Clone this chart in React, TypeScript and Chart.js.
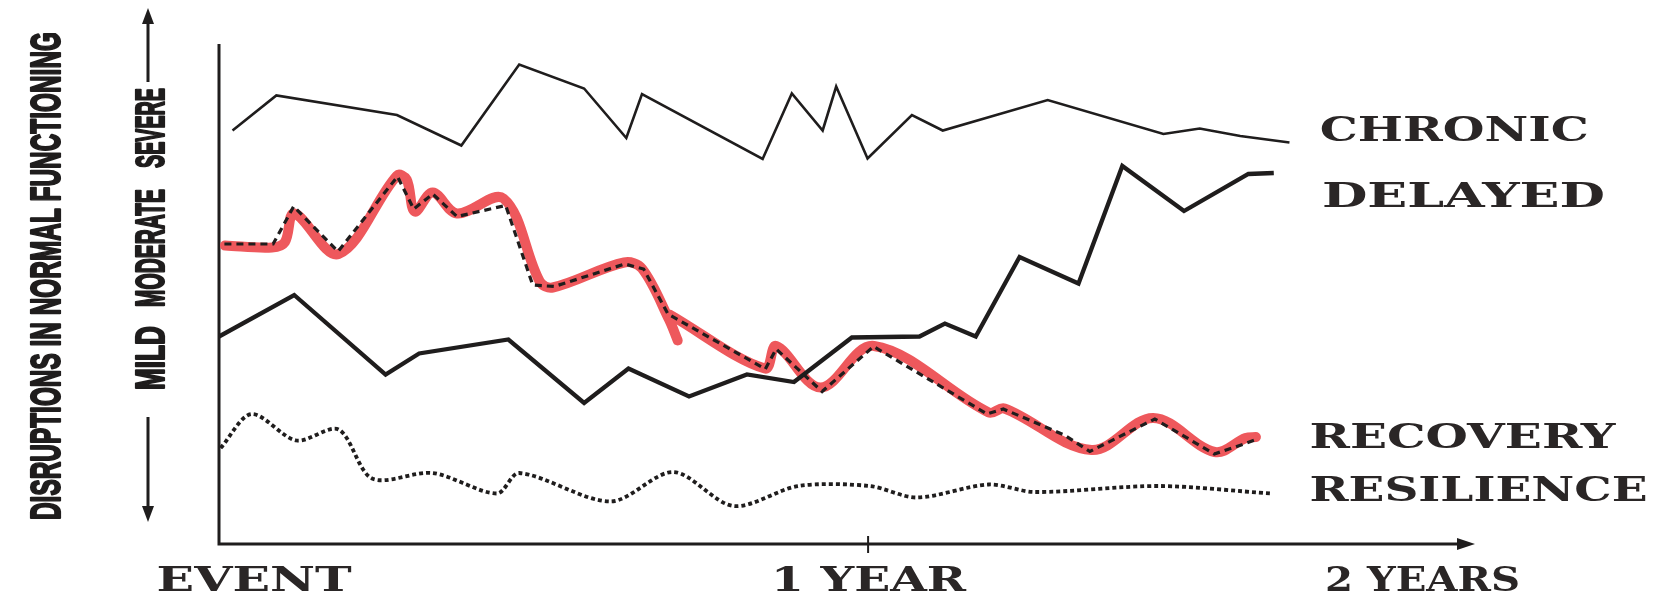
import React, { useEffect, useRef } from "react";
import { Chart, registerables } from "chart.js";

Chart.register(...registerables);

// ---------- data (x in months since the event, y = level of disruption 0..100) ----------
const chronicMonths = [0.25, 1.06, 3.29, 4.48, 5.55, 6.75, 7.53, 7.82, 10.05, 10.59, 11.16, 11.41, 11.99, 12.81, 13.38, 15.32, 17.46, 18.13, 18.88, 19.79];
const chronicValues = [82.7, 89.7, 85.8, 79.7, 95.9, 91.1, 81.2, 90.0, 77.0, 90.1, 82.7, 91.5, 77.1, 85.8, 82.7, 88.8, 82.0, 83.1, 81.6, 80.3];

const delayedMonths = [0.0, 1.39, 3.08, 3.7, 5.35, 6.75, 7.57, 8.69, 9.76, 10.63, 11.7, 12.95, 13.42, 13.99, 14.8, 15.89, 16.7, 17.84, 19.03, 19.5];
const delayedValues = [41.5, 49.8, 33.9, 38.1, 40.9, 28.2, 35.1, 29.5, 33.9, 32.4, 41.3, 41.5, 44.1, 41.5, 57.4, 52.1, 75.6, 66.6, 74.0, 74.2];

const recoveryMonths = [0.1, 1.0, 1.38, 2.2, 3.3, 3.6, 3.95, 4.4, 5.3, 5.8, 6.2, 7.5, 7.85, 8.3, 10.1, 10.3, 11.15, 12.1, 14.2, 14.5, 15.63, 16.1, 17.3, 18.4, 18.95, 19.2];
const recoveryValues = [60, 60, 67.5, 58.5, 73.5, 67, 70, 65.5, 67.7, 51.8, 51.5, 56, 55, 46, 35, 39, 30.5, 39.5, 26, 27, 21.8, 18.5, 25, 18, 20, 21];

// hand-drawn red highlight over the recovery trajectory (null = pen lifted)
const highlightMonths = [0.11, 0.98, 1.22, 1.39, 2.21, 3.29, 3.47, 3.62, 3.95, 4.4, 5.26, 5.93, 6.17, 7.49, 7.82, 8.32, 8.48, 8.48, 8.33, 10.09, 10.3, 11.12, 12.11, 14.23, 14.52, 16.13, 17.27, 18.41, 18.98, 19.17];
const highlightValues: (number | null)[] = [59.7, 59.3, 60.4, 66.1, 58.0, 73.7, 72.9, 66.5, 70.3, 66.1, 69.1, 52.5, 51.3, 56.3, 55.1, 44.9, 40.7, null, 45.9, 35.1, 39.6, 31.3, 39.6, 26.3, 27.1, 18.8, 25.2, 18.4, 21.2, 21.4];

const resilienceMonths = [0.03, 0.6, 1.43, 2.21, 2.83, 3.95, 5.14, 5.55, 7.24, 8.4, 9.51, 10.71, 12.03, 12.9, 14.23, 15.08, 17.37, 19.45];
const resilienceValues = [19.2, 26.0, 20.7, 22.9, 13.1, 14.2, 10.1, 14.2, 8.5, 14.4, 7.6, 11.6, 11.6, 9.3, 11.9, 10.4, 11.6, 10.1];

const seriesNames = ["CHRONIC", "DELAYED", "RECOVERY", "RESILIENCE"];
const xTickLabels = ["EVENT", "1 YEAR", "2 YEARS"];
const xTickMonths = [0.64, 12, 22.24];
const severityWords = ["MILD", "MODERATE", "SEVERE"];
const yAxisTitle = "DISRUPTIONS IN NORMAL FUNCTIONING";

// ---------- styling / layout ----------
const INK = "#1f1d1d";
const TEXT = "#2a2626";
const RED = "rgb(238,88,92)";
const W = 1656;
const H = 593;
const X_MAX = 23.22;

const toXY = (xs: number[], ys: (number | null)[]) => xs.map((x, i) => ({ x, y: ys[i] }));

// label layout (months / value units for series names)
const seriesLabelPos = [
  { m: 20.35, v: 83.1, w: 269 },
  { m: 20.39, v: 69.8, w: 283 },
  { m: 20.16, v: 21.6, w: 306 },
  { m: 20.16, v: 11.0, w: 338 },
];
const SERIF = "'DejaVu Serif', 'Liberation Serif', serif";
const SANS = "'Liberation Sans', 'DejaVu Sans', sans-serif";

function stretchedText(ctx: CanvasRenderingContext2D, text: string, x: number, baseline: number, targetW: number, font: string) {
  ctx.save();
  ctx.font = font;
  const w = ctx.measureText(text).width;
  ctx.translate(x, baseline);
  ctx.scale(targetW / w, 1);
  ctx.textAlign = "left";
  ctx.textBaseline = "alphabetic";
  ctx.fillText(text, 0, 0);
  ctx.restore();
}

function verticalText(ctx: CanvasRenderingContext2D, text: string, cx: number, cy: number, len: number, size: number) {
  ctx.save();
  ctx.font = `bold ${size}px ${SANS}`;
  const w = ctx.measureText(text).width;
  ctx.translate(cx, cy);
  ctx.rotate(-Math.PI / 2);
  ctx.scale(len / w, 1);
  ctx.textAlign = "center";
  ctx.textBaseline = "alphabetic";
  ctx.fillText(text, 0, size * 0.36);
  ctx.strokeStyle = ctx.fillStyle as string;
  ctx.lineWidth = 2.2;
  ctx.lineJoin = "round";
  ctx.strokeText(text, 0, size * 0.36);
  ctx.restore();
}

const decorPlugin = {
  id: "decor",
  beforeDatasetsDraw(chart: any) {
    const ctx: CanvasRenderingContext2D = chart.ctx;
    const { left, top, bottom, right } = chart.chartArea;
    const xs = chart.scales.x;
    ctx.save();
    ctx.strokeStyle = INK;
    ctx.fillStyle = INK;
    ctx.lineWidth = 3;
    ctx.lineCap = "butt";
    ctx.beginPath();
    ctx.moveTo(left, top);
    ctx.lineTo(left, bottom);
    ctx.lineTo(right - 14, bottom);
    ctx.stroke();
    ctx.beginPath();
    ctx.moveTo(right, bottom);
    ctx.lineTo(right - 18, bottom - 6);
    ctx.lineTo(right - 18, bottom + 6);
    ctx.closePath();
    ctx.fill();
    const tx = xs.getPixelForValue(xTickMonths[1]);
    ctx.lineWidth = 2;
    ctx.beginPath();
    ctx.moveTo(tx, bottom - 8);
    ctx.lineTo(tx, bottom + 9);
    ctx.stroke();
    ctx.restore();
  },
  afterDraw(chart: any) {
    const ctx: CanvasRenderingContext2D = chart.ctx;
    const { bottom } = chart.chartArea;
    const xs = chart.scales.x;
    const ys = chart.scales.y;
    ctx.save();
    ctx.fillStyle = TEXT;
    const size = 33;
    const cap = size * 0.729;
    const serifFont = `bold ${size}px ${SERIF}`;
    // series names
    seriesNames.forEach((name, i) => {
      const p = seriesLabelPos[i];
      const x = xs.getPixelForValue(p.m);
      const y = ys.getPixelForValue(p.v);
      stretchedText(ctx, name, x, y + cap / 2, p.w, serifFont);
    });
    // x labels
    xTickLabels.forEach((lab, i) => {
      const cx = xs.getPixelForValue(xTickMonths[i]);
      stretchedText(ctx, lab, cx - 97, bottom + 35 + cap / 2, 195, serifFont);
    });
    // y axis title
    ctx.fillStyle = INK;
    verticalText(ctx, yAxisTitle, 45, 276, 488, 42);
    // severity words
    const wordPos = [
      { cy: 358, len: 64 },
      { cy: 248, len: 118 },
      { cy: 128, len: 80 },
    ];
    severityWords.forEach((wd, i) => verticalText(ctx, wd, 150, wordPos[i].cy, wordPos[i].len, 40));
    // arrows
    ctx.strokeStyle = INK;
    ctx.lineWidth = 3;
    const ax = 148;
    ctx.beginPath();
    ctx.moveTo(ax, 82);
    ctx.lineTo(ax, 20);
    ctx.moveTo(ax, 417);
    ctx.lineTo(ax, 508);
    ctx.stroke();
    ctx.beginPath();
    ctx.moveTo(ax, 8);
    ctx.lineTo(ax - 6, 24);
    ctx.lineTo(ax + 6, 24);
    ctx.closePath();
    ctx.moveTo(ax, 522);
    ctx.lineTo(ax - 6, 506);
    ctx.lineTo(ax + 6, 506);
    ctx.closePath();
    ctx.fill();
    ctx.restore();
  },
};

export default function App() {
  const ref = useRef<HTMLCanvasElement | null>(null);
  useEffect(() => {
    if (!ref.current) return;
    const chart = new Chart(ref.current, {
      type: "line",
      data: {
        datasets: [
          {
            label: "RESILIENCE",
            data: toXY(resilienceMonths, resilienceValues),
            borderColor: INK,
            borderWidth: 3.8,
            borderDash: [4, 3],
            tension: 0.3,
            pointRadius: 0,
          },
          {
            label: "CHRONIC",
            data: toXY(chronicMonths, chronicValues),
            borderColor: INK,
            borderWidth: 2.6,
            tension: 0,
            pointRadius: 0,
          },
          {
            label: "DELAYED",
            data: toXY(delayedMonths, delayedValues),
            borderColor: INK,
            borderWidth: 4.3,
            tension: 0,
            pointRadius: 0,
          },
          {
            label: "RECOVERY",
            data: toXY(recoveryMonths, recoveryValues),
            borderColor: INK,
            borderWidth: 3.2,
            borderDash: [7, 5],
            tension: 0,
            pointRadius: 0,
          },
          {
            label: "RECOVERY highlight",
            data: toXY(highlightMonths, highlightValues),
            borderColor: RED,
            borderWidth: 10,
            borderCapStyle: "round",
            borderJoinStyle: "round",
            tension: 0.35,
            spanGaps: false,
            pointRadius: 0,
          },
        ],
      },
      options: {
        responsive: false,
        animation: false,
        devicePixelRatio: 1,
        layout: { padding: { left: 219, right: W - 1475, top: 44, bottom: H - 544 } },
        plugins: { legend: { display: false }, tooltip: { enabled: false } },
        scales: {
          x: { type: "linear", min: 0, max: X_MAX, display: false },
          y: { type: "linear", min: 0, max: 100, display: false },
        },
      },
      plugins: [decorPlugin],
    });
    return () => chart.destroy();
  }, []);
  return (
    <div style={{ position: "absolute", left: 0, top: 0, width: W, height: H, background: "#fff" }}>
      <canvas ref={ref} width={W} height={H} style={{ display: "block" }} />
    </div>
  );
}
